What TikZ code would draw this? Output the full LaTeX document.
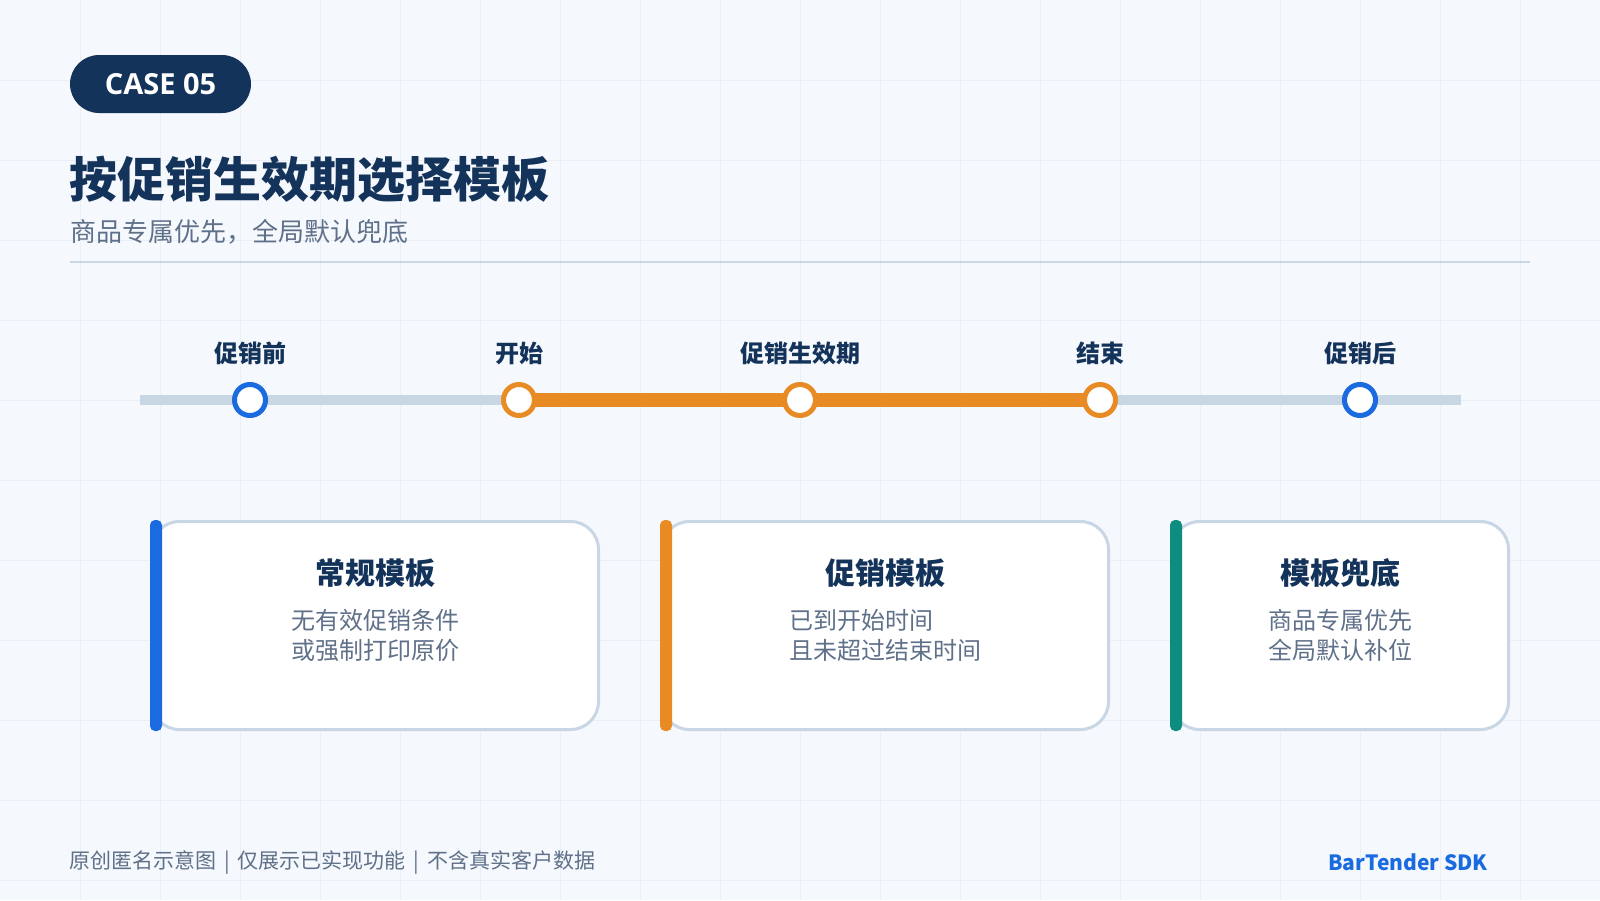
\documentclass[tikz,border=0pt]{standalone}
\usepackage{fontspec}
\setmainfont{Noto Sans CJK SC}
\newfontfamily\latinfont{Open Sans}
\definecolor{bgc}{HTML}{F5F8FC}
\definecolor{gridc}{HTML}{EAEFF5}
\definecolor{navy}{HTML}{14335A}
\definecolor{subgray}{HTML}{5F7089}
\definecolor{divc}{HTML}{C9D6E5}
\definecolor{tlgray}{HTML}{C9D6E3}
\definecolor{accblue}{HTML}{1A6AE0}
\definecolor{accorange}{HTML}{E88B25}
\definecolor{accteal}{HTML}{0E8C80}
\newcommand{\sepbar}{\hspace{8pt}|\hspace{8pt}}
\tikzset{
  stoplabel/.style={text=navy, font=\bfseries\fontsize{24}{24}\selectfont, inner sep=0pt},
  stopdot/.style={circle, draw=#1, line width=5pt, fill=white, minimum size=31pt, inner sep=0pt},
  card/.style={draw=divc, line width=3pt, fill=white, rounded corners=28pt, minimum height=208pt, inner sep=0pt},
  cardtitle/.style={text=navy, font=\bfseries\fontsize{30}{30}\selectfont, inner sep=0pt},
  carddesc/.style={text=subgray, font=\fontsize{24}{30}\selectfont, align=left, inner sep=0pt},
}
\begin{document}
\begin{tikzpicture}[x=1pt,y=-1pt]
\useasboundingbox (0,0) rectangle (1600,900);
\fill[bgc] (0,0) rectangle (1600,900);
\foreach \i in {80,160,...,1520} \draw[gridc,line width=1pt] (\i,0) -- (\i,900);
\foreach \j in {80,160,...,880} \draw[gridc,line width=1pt] (0,\j) -- (1600,\j);

% header
\node[fill=navy, rounded corners=29pt, minimum width=181pt, minimum height=58pt, inner sep=0pt,
      text=white, font=\latinfont\bfseries\fontsize{29}{29}\selectfont] (case) at (160.5,84) {CASE 05};
\node[anchor=west, inner sep=0pt, text=navy, font=\bfseries\fontsize{48}{48}\selectfont] (title) at (69,179) {按促销生效期选择模板};
\node[anchor=west, inner sep=0pt, text=subgray, font=\fontsize{26}{26}\selectfont] (subtitle) at (70,232) {商品专属优先，全局默认兜底};
\draw[divc, line width=2.5pt] (70,262) -- (1530,262);

% timeline
\coordinate (tl0) at (140,400);
\coordinate (tl1) at (1461,400);
\draw[tlgray, line width=10pt] (tl0) -- (tl1);
\coordinate (o1) at (519,400);
\coordinate (o2) at (1100,400);
\draw[accorange, line width=14pt] (o1) -- (o2);
\node[stopdot=accblue] (p1) at (250,400) {};
\node[stopdot=accorange] (p2) at (519,400) {};
\node[stopdot=accorange] (p3) at (800,400) {};
\node[stopdot=accorange] (p4) at (1100,400) {};
\node[stopdot=accblue] (p5) at (1360,400) {};
\node[stoplabel] (l1) at (250,353) {促销前};
\node[stoplabel] (l2) at (519,353) {开始};
\node[stoplabel] (l3) at (800,353) {促销生效期};
\node[stoplabel] (l4) at (1100,353) {结束};
\node[stoplabel] (l5) at (1360,353) {促销后};

% cards
\node[card, minimum width=447pt] (c1) at (375,625.5) {};
\node[card, minimum width=447pt] (c2) at (885,625.5) {};
\node[card, minimum width=337pt] (c3) at (1340,625.5) {};
\fill[accblue, rounded corners=5pt] (150,520) rectangle (162,731);
\fill[accorange, rounded corners=5pt] (660,520) rectangle (672,731);
\fill[accteal, rounded corners=5pt] (1170,520) rectangle (1182,731);

\node[cardtitle] (t1) at (375,573) {常规模板};
\node[carddesc] (d1) at (375,635) {无有效促销条件\\或强制打印原价};
\node[cardtitle] (t2) at (885,573) {促销模板};
\node[carddesc] (d2) at (885,635) {已到开始时间\\且未超过结束时间};
\node[cardtitle] (t3) at (1340,573) {模板兜底};
\node[carddesc] (d3) at (1340,635) {商品专属优先\\全局默认补位};

% footer
\node[anchor=west, inner sep=0pt, text=subgray, font=\fontsize{21}{21}\selectfont] (foot) at (69,863) {原创匿名示意图\sepbar 仅展示已实现功能\sepbar 不含真实客户数据};
\node[anchor=east, inner sep=0pt, text=accblue, font=\bfseries\fontsize{21}{21}\selectfont] (brand) at (1488,862) {BarTender SDK};
\end{tikzpicture}
\end{document}
